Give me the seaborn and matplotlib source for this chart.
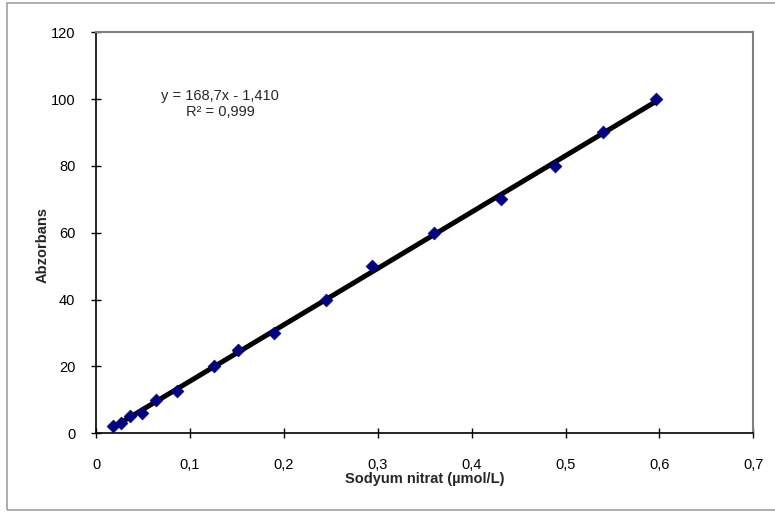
import pandas as pd
from matplotlib import pyplot as plt
from matplotlib.patches import Rectangle
from matplotlib.ticker import FuncFormatter, MultipleLocator
import seaborn as sns

# Sodyum nitrat kalibrasyon verisi
derisim = [0.018, 0.026, 0.036, 0.049, 0.064, 0.086, 0.126, 0.151, 0.190,
           0.245, 0.294, 0.360, 0.431, 0.489, 0.540, 0.596]
absorbans = [2, 3, 5, 6, 10, 12.5, 20, 25, 30, 40, 50, 60, 70, 80, 90, 100]
denklem = "y = 168,7x - 1,410"
r_kare = "R² = 0,999"

df = pd.DataFrame({"derisim": derisim, "absorbans": absorbans})

sns.set_theme(style="white")
plt.rcParams["font.family"] = ["Liberation Sans", "DejaVu Sans"]

fig = plt.figure(figsize=(7.75, 5.12), dpi=100)
ax = fig.add_axes([0.124, 0.154, 0.848, 0.783])

sns.regplot(ax=ax, data=df, x="derisim", y="absorbans", scatter=False, ci=None,
            truncate=True, line_kws={"color": "black", "linewidth": 3.6})
sns.scatterplot(ax=ax, data=df, x="derisim", y="absorbans", marker="D", s=42,
                color="#000080", edgecolor="#000080", zorder=3)

ax.set_xlim(0, 0.7)
ax.set_ylim(0, 120)
ax.xaxis.set_major_locator(MultipleLocator(0.1))
ax.yaxis.set_major_locator(MultipleLocator(20))
ax.xaxis.set_major_formatter(FuncFormatter(lambda v, p: f"{v:g}".replace(".", ",")))
ax.yaxis.set_major_formatter(FuncFormatter(lambda v, p: f"{v:g}"))
ax.tick_params(axis="both", direction="inout", length=7, width=1, colors="black",
               labelsize=10.5, left=True, bottom=True)
ax.tick_params(axis="x", pad=14.5)
ax.tick_params(axis="y", pad=11.5)

for s in ["left", "bottom"]:
    ax.spines[s].set_color("black")
    ax.spines[s].set_linewidth(1.2)
for s in ["top", "right"]:
    ax.spines[s].set_color("#808080")
    ax.spines[s].set_linewidth(1.5)

ax.set_xlabel("Sodyum nitrat (µmol/L)", fontsize=10.5, fontweight="bold")
ax.set_ylabel("Abzorbans", fontsize=10.5, fontweight="bold")
ax.xaxis.set_label_coords(0.5, -0.097)
ax.yaxis.set_label_coords(-0.07, 0.47)

ax.text(0.132, 100.8, denklem, ha="center", va="center", fontsize=10.5)
ax.text(0.132, 96.0, r_kare, ha="center", va="center", fontsize=10.5)

# dış çerçeve
fig.patches.append(Rectangle((0.009, 0.004), 1.0, 0.99, transform=fig.transFigure,
                             fill=False, edgecolor="#a0a0a0", linewidth=1.2))

plt.savefig("out.png", dpi=100)
